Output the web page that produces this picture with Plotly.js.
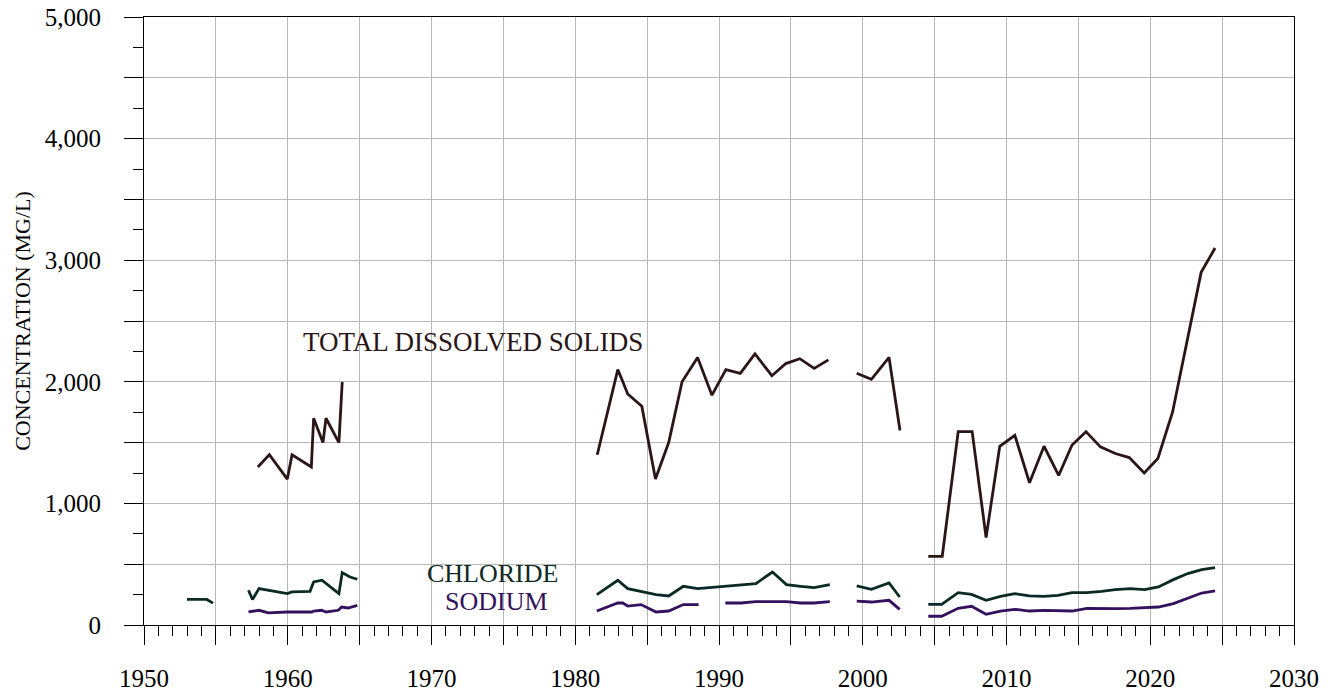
<!DOCTYPE html>
<html>
<head>
<meta charset="utf-8">
<script src="https://cdn.plot.ly/plotly-3.0.1.min.js"></script>
<style>
html,body{margin:0;padding:0;background:#fff;}
#chart{width:1335px;height:693px;}
</style>
</head>
<body>
<div id="chart"></div>
<script>
// Total dissolved solids (null = gap in record)
var tdsYears = [1957.92,1958.72,1959.97,1960.3,1961.64,1961.8,1962.45,1962.66,1963.56,1963.79,null,
  1981.53,1982.96,1983.31,1983.65,1984.63,1985.58,1986.5,1987.43,1988.51,1989.51,1990.48,1991.48,1992.5,1993.68,1994.65,1995.62,1996.62,1997.61,null,
  1999.58,2000.6,2001.83,2002.59,null,
  2004.56,2005.53,2006.64,2007.61,2008.58,2009.53,2010.58,2011.6,2012.61,2013.63,2014.56,2015.53,2016.53,2017.57,2018.54,2019.58,2020.53,2021.55,2023.54,2024.51];
var tdsValues = [1300,1400,1200,1400,1300,1700,1500,1700,1500,2000,null,
  1400,2100,2000,1900,1800,1200,1500,2000,2200,1890,2100,2070,2230,2050,2150,2190,2110,2180,null,
  2070,2020,2200,1600,null,
  565,565,1590,1590,720,1470,1560,1170,1470,1230,1480,1590,1465,1410,1377,1250,1370,1750,2900,3100];

// Chloride
var clYears = [1952.99,1954.37,1954.8,null,
  1957.27,1957.55,1958.0,1959.97,1960.3,1961.55,1961.8,1962.38,1963.56,1963.79,1964.33,1964.84,null,
  1981.5,1982.96,1983.65,1984.58,1985.62,1986.5,1987.52,1988.51,1990.48,1992.57,1993.72,1994.69,1995.69,1996.62,1997.71,null,
  1999.58,2000.6,2001.83,2002.57,null,
  2004.56,2005.49,2006.64,2007.57,2008.58,2009.58,2010.58,2011.6,2012.59,2013.58,2014.56,2015.6,2016.6,2017.57,2018.61,2019.6,2020.57,2021.61,2022.61,2023.58,2024.51];
var clValues = [210,210,180,null,
  285,210,300,258,272,277,354,368,258,431,395,376,null,
  250,368,299,277,250,239,318,299,321,341,436,332,318,307,332,null,
  321,294,346,230,null,
  170,170,266,252,203,236,258,239,236,244,266,266,277,291,299,291,313,373,423,456,472];

// Sodium
var naYears = [1957.27,1958.0,1958.65,1959.93,1961.67,1961.8,1962.36,1962.66,1963.52,1963.75,1964.2,1964.84,null,
  1981.5,1982.96,1983.3,1983.65,1984.58,1985.62,1986.5,1987.52,1988.58,null,
  1990.44,1991.53,1992.57,1994.65,1995.69,1996.62,1997.71,null,
  1999.58,2000.6,2001.83,2002.57,null,
  2004.56,2005.49,2006.64,2007.57,2008.58,2009.58,2010.58,2011.6,2012.59,2013.58,2014.56,2015.6,2016.6,2017.57,2018.61,2019.6,2020.57,2021.61,2022.61,2023.58,2024.51];
var naValues = [107,121,99,107,107,115,121,107,121,148,140,162,null,
  115,181,181,156,168,107,115,168,168,null,
  181,181,192,192,181,181,192,null,
  197,189,203,129,null,
  72,72,137,154,88,115,129,115,121,121,115,137,134,134,137,143,148,176,217,263,280];

// Axis ticks
var xTickVals = [1950,1955,1960,1965,1970,1975,1980,1985,1990,1995,2000,2005,2010,2015,2020,2025,2030];
var xTickText = ['1950','','1960','','1970','','1980','','1990','','2000','','2010','','2020','','2030'];
var yTickVals = [0,500,1000,1500,2000,2500,3000,3500,4000,4500,5000];
var yTickText = ['0','','1,000','','2,000','','3,000','','4,000','','5,000'];

var cTds = '#2a1517', cCl = '#0b2a23', cNa = '#33115c';
var serif = 'Liberation Serif, Times New Roman, serif';

var traces = [
  {x: tdsYears, y: tdsValues, mode: 'lines', line: {color: cTds, width: 2.8}, connectgaps: false, name: 'TDS'},
  {x: clYears, y: clValues, mode: 'lines', line: {color: cCl, width: 2.8}, connectgaps: false, name: 'Chloride'},
  {x: naYears, y: naValues, mode: 'lines', line: {color: cNa, width: 2.8}, connectgaps: false, name: 'Sodium'}
];

var layout = {
  width: 1335, height: 693,
  margin: {l: 144, r: 41, t: 17, b: 68},
  paper_bgcolor: '#fff', plot_bgcolor: '#fff',
  showlegend: false,
  font: {family: serif, color: '#000', size: 25},
  xaxis: {
    range: [1950, 2030], tickmode: 'array', tickvals: xTickVals, ticktext: xTickText,
    ticks: 'outside', ticklen: 19, tickwidth: 1, tickcolor: '#000',
    showline: true, linecolor: '#000', linewidth: 1, mirror: true,
    showgrid: true, gridcolor: '#b8b8b8', gridwidth: 1, zeroline: false,
    ticklabelstandoff: 12,
    tickfont: {family: serif, size: 25, color: '#000'},
    minor: {tickmode: 'linear', tick0: 1950, dtick: 1, ticks: 'outside', ticklen: 10, tickwidth: 1, tickcolor: '#000', showgrid: false}
  },
  yaxis: {
    range: [0, 5000], tickmode: 'array', tickvals: yTickVals, ticktext: yTickText,
    ticks: 'outside', ticklen: 19, tickwidth: 1, tickcolor: '#000',
    showline: true, linecolor: '#000', linewidth: 1, mirror: true,
    showgrid: true, gridcolor: '#b8b8b8', gridwidth: 1, zeroline: false,
    ticklabelstandoff: 18,
    tickfont: {family: serif, size: 25, color: '#000'},
    minor: {tickmode: 'linear', tick0: 0, dtick: 250, ticks: 'outside', ticklen: 10, tickwidth: 1, tickcolor: '#000', showgrid: false},
    title: {text: 'CONCENTRATION (MG/L)', font: {family: serif, size: 22, color: '#000'}, standoff: 8}
  },
  annotations: [
    {x: 1972.87, y: 2330, xref: 'x', yref: 'y', text: 'TOTAL DISSOLVED SOLIDS', showarrow: false, font: {family: serif, size: 27, color: cTds}},
    {x: 1974.26, y: 425, xref: 'x', yref: 'y', text: 'CHLORIDE', showarrow: false, font: {family: serif, size: 26, color: cCl}},
    {x: 1974.53, y: 195, xref: 'x', yref: 'y', text: 'SODIUM', showarrow: false, font: {family: serif, size: 26, color: cNa}}
  ]
};

Plotly.newPlot('chart', traces, layout, {displayModeBar: false, staticPlot: true});
</script>
</body>
</html>
